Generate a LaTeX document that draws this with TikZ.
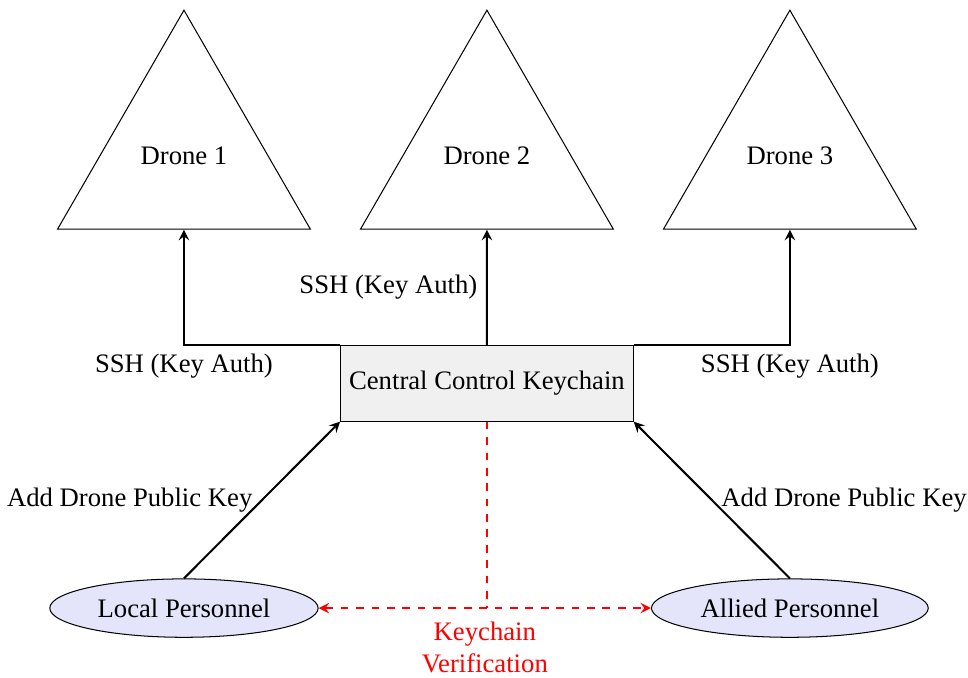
\documentclass[tikz,border=0pt]{standalone}
\usepackage{fontspec}
\setmainfont{Liberation Serif}
\usetikzlibrary{shapes.geometric}
\definecolor{boxgray}{HTML}{F0F0F0}
\definecolor{userblue}{HTML}{E4E4FA}
\tikzset{
  drone/.style={regular polygon, regular polygon sides=3, draw, inner sep=0pt, minimum size=4cm},
  keybox/.style={rectangle, draw, fill=boxgray, minimum width=4cm, minimum height=1.04cm},
  user/.style={ellipse, draw, fill=userblue, minimum width=3.64cm, minimum height=0.8cm},
  link/.style={->, >=stealth, thick},
  verif/.style={red, dashed, thick}
}
\begin{document}
\begin{tikzpicture}[font=\fontsize{10.4pt}{12.6pt}\selectfont]
\useasboundingbox (-6.67,-4.03) rectangle (6.59,5.25);

% drones
\node[drone] (drone1) at (-4.15,3.11) {Drone 1};
\node[drone] (drone2) at (0,3.11) {Drone 2};
\node[drone] (drone3) at (4.15,3.11) {Drone 3};

% keychain and personnel
\node[keybox] (ckc) at (0,0) {Central Control Keychain};
\node[user] (local) at (-4.15,-3.08) {Local Personnel};
\node[user] (allied) at (4.15,-3.08) {Allied Personnel};

% ssh links
\draw[link] (ckc.north west) -| node[pos=0.5, below] {SSH (Key Auth)} (drone1.south);
\draw[link] (ckc.north) -- node[midway, left] {SSH (Key Auth)} (drone2.south);
\draw[link] (ckc.north east) -| node[pos=0.5, below] {SSH (Key Auth)} (drone3.south);

% adding keys
\draw[link] (local.north) -- node[midway, left] {Add Drone Public Key} (ckc.south west);
\draw[link] (allied.north) -- node[midway, right] {Add Drone Public Key} (ckc.south east);

% verification
\coordinate (vmid) at (ckc.south |- local.east);
\draw[verif] (ckc.south) -- (vmid);
\draw[verif, <->, >=stealth] (local.east) -- node[midway, below=1.5pt, align=center] {Keychain\\Verification} (allied.west);
\end{tikzpicture}
\end{document}
